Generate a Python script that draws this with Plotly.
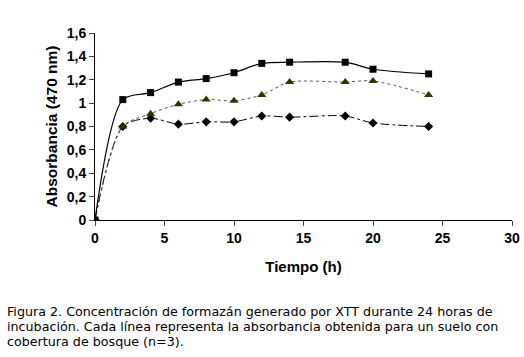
import plotly.graph_objects as go

hours = [0, 2, 4, 6, 8, 10, 12, 14, 18, 20, 24]
serie_cuadrados = [0, 1.03, 1.09, 1.18, 1.21, 1.26, 1.34, 1.35, 1.35, 1.29, 1.25]
serie_triangulos = [0, 0.80, 0.91, 0.99, 1.03, 1.02, 1.07, 1.18, 1.18, 1.19, 1.07]
serie_rombos = [0, 0.80, 0.87, 0.82, 0.84, 0.84, 0.89, 0.88, 0.89, 0.83, 0.80]

x_ticks = [0, 5, 10, 15, 20, 25, 30]
y_ticks = [0, 0.2, 0.4, 0.6, 0.8, 1.0, 1.2, 1.4, 1.6]
y_labels = ["0", "0,2", "0,4", "0,6", "0,8", "1", "1,2", "1,4", "1,6"]

caption_lines = [
    "Figura 2. Concentración de formazán generado por XTT durante 24 horas de",
    "incubación. Cada línea representa la absorbancia obtenida para un suelo con",
    "cobertura de bosque (n=3).",
]

fig = go.Figure()
fig.add_trace(go.Scatter(
    x=hours, y=serie_rombos, mode="lines+markers",
    line=dict(color="black", width=1, dash="dashdot", shape="spline", smoothing=0.8),
    marker=dict(symbol="diamond", size=7, color="black"),
    showlegend=False))
fig.add_trace(go.Scatter(
    x=hours, y=serie_triangulos, mode="lines+markers",
    line=dict(color="#555555", width=1, dash="dot", shape="spline", smoothing=0.8),
    marker=dict(symbol="triangle-up", size=8, color="#333300"),
    showlegend=False))
fig.add_trace(go.Scatter(
    x=hours, y=serie_cuadrados, mode="lines+markers",
    line=dict(color="black", width=1.2, shape="spline", smoothing=0.8),
    marker=dict(symbol="square", size=7, color="black"),
    showlegend=False))

tickfont = dict(family="Liberation Sans Narrow, Liberation Sans, Arial", size=14, color="black")

fig.update_layout(
    width=524, height=357,
    margin=dict(l=95, r=12, t=33, b=137),
    paper_bgcolor="white", plot_bgcolor="white",
    separators=",.",
    xaxis=dict(range=[0, 30], tickvals=x_ticks, ticktext=["<b>%d</b>" % t for t in x_ticks],
               ticks="outside", ticklen=5, automargin=False,
               showline=True, linecolor="black", linewidth=1, showgrid=False,
               zeroline=False, tickfont=tickfont,
               title=dict(text="<b>Tiempo (h)</b>",
                          font=dict(family="Liberation Sans, Arial", size=15, color="black"),
                          standoff=16)),
    yaxis=dict(range=[0, 1.6], tickvals=y_ticks, ticktext=["<b>%s</b>" % t for t in y_labels],
               ticks="outside", ticklen=5, automargin=False,
               showline=True, linecolor="black", linewidth=1, showgrid=False,
               zeroline=False, tickfont=tickfont,
               title=dict(text="<b>Absorbancia (470 nm)</b>",
                          font=dict(family="Liberation Sans, Arial", size=15.5, color="black"),
                          standoff=5)),
)

for i, line in enumerate(caption_lines):
    fig.add_annotation(
        text=line, xref="paper", yref="paper",
        x=-90/417, y=0, xanchor="left", yanchor="middle",
        yshift=-(311 - 220) - 15 * i, showarrow=False,
        font=dict(family="DejaVu Sans, Verdana", size=12.7, color="black"))

fig.write_html("out.html", config={"displayModeBar": False},
               post_script="document.body.style.margin='0';document.body.style.overflow='hidden';")
